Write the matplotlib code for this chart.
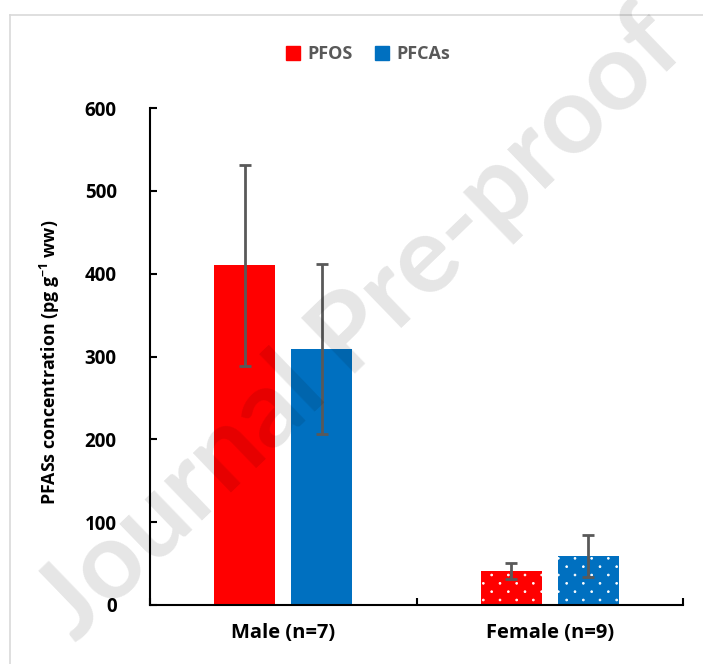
import matplotlib
matplotlib.use("Agg")
import matplotlib.pyplot as plt
import matplotlib.hatch as mhatch
from matplotlib.patches import Patch
from matplotlib.lines import Line2D
from matplotlib.path import Path
import numpy as np

FONT = 'Open Sans'
plt.rcParams['font.family'] = [FONT, 'DejaVu Sans']
plt.rcParams['mathtext.fontset'] = 'custom'
plt.rcParams['mathtext.rm'] = FONT + ':bold'
plt.rcParams['mathtext.it'] = FONT + ':bold'
plt.rcParams['mathtext.bf'] = FONT + ':bold'
plt.rcParams['hatch.linewidth'] = 0.6


# Excel-like "small dots" pattern: staggered dots, rows twice as dense as columns
class DotLattice(mhatch.HatchPatternBase):
    def __init__(self, hatch, density):
        self.n = hatch.count('.') * density * 2
        circ = Path.unit_circle()
        self.sv = circ.vertices
        self.sc = circ.codes
        if self.n == 0:
            self.num_vertices = 0
            return
        pts = []
        for k in range(self.n + 1):
            js = range(0, self.n + 1, 2) if k % 2 == 0 else range(1, self.n, 2)
            for j in js:
                pts.append((j / self.n, k / self.n))
        self.pts = pts
        self.num_vertices = len(pts) * len(self.sv)

    def set_vertices_and_codes(self, vertices, codes):
        r = 0.009
        vparts = [self.sv * r + p for p in self.pts]
        cparts = [self.sc for _ in self.pts]
        np.concatenate(vparts, out=vertices)
        np.concatenate(cparts, out=codes)


try:
    mhatch._hatch_types = [DotLattice if t is mhatch.SmallFilledCircles else t
                           for t in mhatch._hatch_types]
except Exception:
    pass

categories = ["Male (n=7)", "Female (n=9)"]
series = ["PFOS", "PFCAs"]
pfos = [410, 41]
pfos_err = [121, 10]
pfcas = [309, 59]
pfcas_err = [103, 25]
yticks = [0, 100, 200, 300, 400, 500, 600]

colors = ["#FF0000", "#0070C0"]
W, H = 703, 664
fig = plt.figure(figsize=(W/100, H/100), dpi=100)

# outer frame (top and left edges visible)
fig.add_artist(Line2D([10/W, 1.0], [1-15/H, 1-15/H], transform=fig.transFigure,
                      color="#d9d9d9", linewidth=1.2))
fig.add_artist(Line2D([10/W, 10/W], [0.0, 1-15/H], transform=fig.transFigure,
                      color="#d9d9d9", linewidth=1.2))

ax = fig.add_axes([150/W, 1-605/H, 533/W, 497/H])
x = np.arange(len(categories))
bw = 0.229
off = 0.144
hatches = [None, '.']
for i in range(len(categories)):
    for j, (vals, errs) in enumerate([(pfos, pfos_err), (pfcas, pfcas_err)]):
        xi = x[i] + (off if j else -off)
        ax.bar(xi, vals[i], width=bw, color=colors[j],
               edgecolor=colors[j] if hatches[i] is None else 'white',
               linewidth=0, hatch=hatches[i], zorder=2)
        ax.errorbar(xi, vals[i], yerr=errs[i], fmt='none', ecolor='#595959', elinewidth=2,
                    capsize=4.5, capthick=2, zorder=3)

wt = 'bold'
ax.set_xlim(-0.5, 1.5)
ax.set_ylim(0, 600)
ax.set_yticks(yticks)
ax.set_yticklabels([str(v) for v in yticks], fontsize=13.5, fontweight=wt)
ax.set_xticks([-0.5, 0.5, 1.5])
ax.set_xticklabels([])
ax.set_xticks(x, minor=True)
ax.set_xticklabels(categories, minor=True, fontsize=14.5, fontweight=wt)
ax.tick_params(axis='x', which='minor', length=0, pad=13)
ax.tick_params(axis='x', which='major', direction='in', length=5, width=1.5)
ax.tick_params(axis='y', direction='in', length=5, width=1.5, pad=24)
for s in ['top', 'right']:
    ax.spines[s].set_visible(False)
for s in ['left', 'bottom']:
    ax.spines[s].set_linewidth(1.5)
ax.set_ylabel("PFASs concentration (pg g$^{-1}$ ww)", fontsize=12.8, fontweight=wt)
ax.yaxis.set_label_coords(-150/533 + 62/533, (605-362)/497)

handles = [Patch(facecolor=c, edgecolor=c) for c in colors]
leg = fig.legend(handles, series, loc='center', bbox_to_anchor=(368/W, 1-54/H), ncol=2,
                 frameon=False, prop={'weight': wt, 'size': 13}, handlelength=0.8,
                 handleheight=0.8, handletextpad=0.4, columnspacing=1.2)
for t in leg.get_texts():
    t.set_color('#595959')

# watermark
fig.text(360/W, 1-325/H, "Journal Pre-proof", fontsize=78, color='black', alpha=0.1,
         rotation=44, ha='center', va='center', rotation_mode='anchor', zorder=10,
         family='Lato', fontweight='bold')

fig.savefig("out.png", dpi=100)
